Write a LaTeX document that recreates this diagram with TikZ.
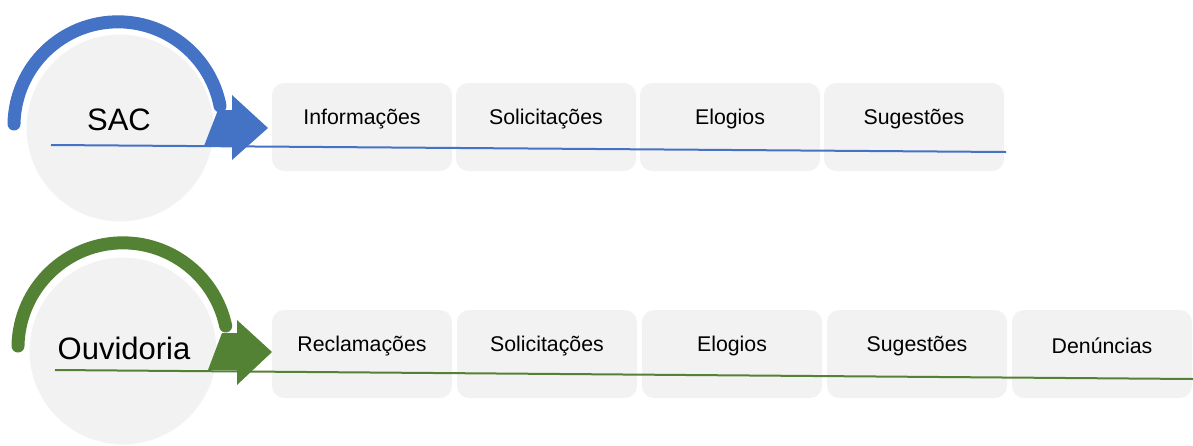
\documentclass[tikz,border=0pt]{standalone}
\usepackage{fontspec}
\setmainfont{Liberation Sans}
\definecolor{cblue}{HTML}{4472C4}
\definecolor{cgreen}{HTML}{548235}
\definecolor{cgrey}{HTML}{F2F2F2}
\begin{document}
\begin{tikzpicture}[x=1pt,y=-1pt,
  item/.style={draw=none,fill=cgrey,rounded corners=12pt,minimum width=180pt,minimum height=88pt,inner sep=0pt},
  lbl/.style={font=\fontsize{21.3}{25}\selectfont,inner sep=0pt},
  hub/.style={circle,fill=cgrey,draw=white,line width=1pt,minimum size=188pt,inner sep=0pt},
  title/.style={font=\fontsize{31}{36}\selectfont,inner sep=0pt},
  loop/.style={line width=13pt,line cap=round},
  baseline/.style={line width=2pt}
]
\useasboundingbox (0,0) rectangle (1193,445);
% ---- top row (SAC)
\node[hub] (c1) at (120,128) {};
\node[item] (a1) at (362,127) {};
\node[item] (a2) at (546,127) {};
\node[item] (a3) at (730,127) {};
\node[item] (a4) at (914,127) {};
\node[lbl] (ta1) at (362,119) {Informações};
\node[lbl] (ta2) at (546,119) {Solicitações};
\node[lbl] (ta3) at (730,119) {Elogios};
\node[lbl] (ta4) at (914,119) {Sugestões};
\coordinate (l1s) at (51,145);
\coordinate (l1e) at (1006,152);
\draw[cblue,baseline] (l1s) -- (l1e);
\draw[cblue,loop] (14,124) arc[start angle=181,end angle=349,radius=104];
\fill[cblue] (204,146) -- (218,110) -- (232,110) -- (232,95) -- (268,128) -- (232,160) -- (232,146) -- cycle;
\node[title] (t1) at (119,120) {SAC};
% ---- bottom row (Ouvidoria)
\node[hub] (c2) at (123,351) {};
\node[item] (b1) at (362,354) {};
\node[item] (b2) at (547,354) {};
\node[item] (b3) at (732,354) {};
\node[item] (b4) at (917,354) {};
\node[item] (b5) at (1102,354) {};
\node[lbl] (tb1) at (362,346) {Reclamações};
\node[lbl] (tb2) at (547,346) {Solicitações};
\node[lbl] (tb3) at (732,346) {Elogios};
\node[lbl] (tb4) at (917,346) {Sugestões};
\node[lbl] (tb5) at (1102,346) {Denúncias};
\coordinate (l2s) at (55,370);
\coordinate (l2e) at (1193,379);
\draw[cgreen,baseline] (l2s) -- (l2e);
\draw[cgreen,loop] (18,346) arc[start angle=181,end angle=348,radius=105];
\fill[cgreen] (208,370) -- (222,333) -- (237,333) -- (237,320) -- (272,352) -- (237,385) -- (237,370) -- cycle;
\node[title] (t2) at (124,348) {Ouvidoria};
\end{tikzpicture}
\end{document}
